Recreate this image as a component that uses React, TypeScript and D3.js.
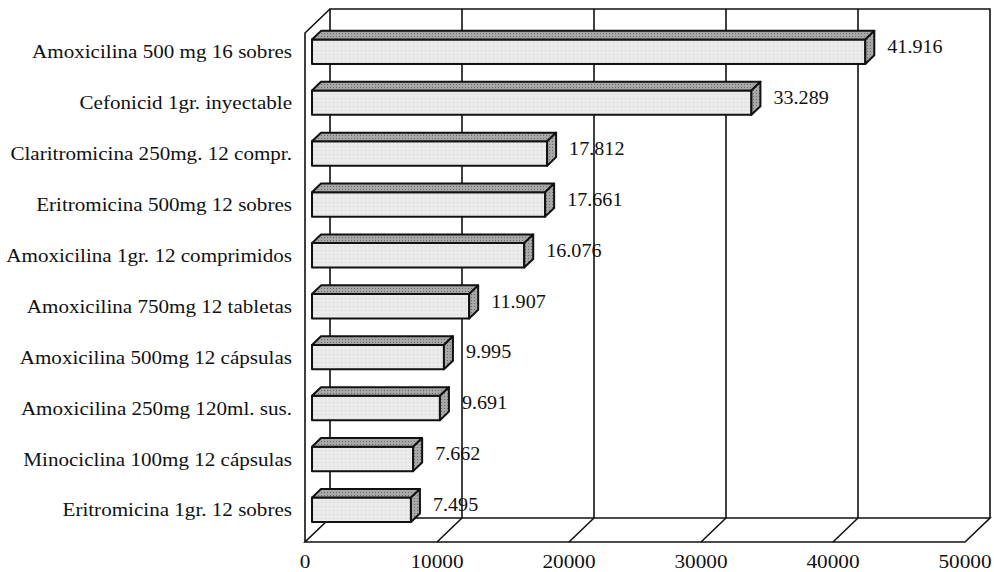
import * as d3 from "d3";

const categories = [
  "Amoxicilina 500 mg 16 sobres",
  "Cefonicid 1gr. inyectable",
  "Claritromicina 250mg. 12 compr.",
  "Eritromicina 500mg 12 sobres",
  "Amoxicilina 1gr. 12 comprimidos",
  "Amoxicilina 750mg 12 tabletas",
  "Amoxicilina 500mg 12 cápsulas",
  "Amoxicilina 250mg 120ml. sus.",
  "Minociclina 100mg 12 cápsulas",
  "Eritromicina 1gr. 12 sobres",
];
const values = [41916, 33289, 17812, 17661, 16076, 11907, 9995, 9691, 7662, 7495];
const xTicks = [0, 10000, 20000, 30000, 40000, 50000];

const width = 994;
const height = 572;
// oblique depth of the frame
const DX = 25;
const DY = -24;
// bar sits between these depth fractions
const D0 = 0.28;
const D1 = 0.64;
const font = "'Liberation Serif', 'Times New Roman', serif";

const fmt = (v: number) => d3.format(",")(v).replace(/,/g, ".");

export default function App() {
  const x = d3.scaleLinear().domain([0, 50000]).range([305, 965]);
  const y = d3
    .scaleBand<string>()
    .domain(categories)
    .range([33, 542])
    .paddingInner(0.52)
    .paddingOuter(0.26);

  const yTop = 33;
  const yBot = 542;
  const p = (v: number, yy: number, d: number) => [x(v) + d * DX, yy + d * DY];
  const pts = (arr: number[][]) => arr.map((q) => q.join(",")).join(" ");

  const bw = y.bandwidth();

  return (
    <svg
      width={width}
      height={height}
      style={{ position: "absolute", left: 0, top: 0, background: "#fff" }}
    >
      <defs>
        <pattern id="dots" width="3" height="3" patternUnits="userSpaceOnUse">
          <rect width="3" height="3" fill="#a8a8a8" />
          <rect width="1" height="1" fill="#6a6a6a" />
        </pattern>
        <pattern id="speck" width="4" height="4" patternUnits="userSpaceOnUse">
          <rect width="4" height="4" fill="#ebebeb" />
          <rect x="1" y="2" width="1" height="1" fill="#cfcfcf" />
        </pattern>
      </defs>
      <g fill="none" stroke="#111" strokeWidth={1.6}>
        {/* back wall */}
        <polyline
          points={pts([p(0, yBot, 1), p(0, yTop, 1), p(50000, yTop, 1), p(50000, yBot, 1)])}
        />
        {xTicks.slice(1, -1).map((t) => (
          <line
            key={t}
            x1={p(t, yTop, 1)[0]}
            y1={p(t, yTop, 1)[1]}
            x2={p(t, yBot, 1)[0]}
            y2={p(t, yBot, 1)[1]}
          />
        ))}
        {/* left wall */}
        <polyline points={pts([p(0, yBot, 0), p(0, yTop, 0), p(0, yTop, 1)])} />
        {/* floor */}
        <polygon
          points={pts([p(0, yBot, 0), p(50000, yBot, 0), p(50000, yBot, 1), p(0, yBot, 1)])}
        />
        {xTicks.slice(1, -1).map((t) => (
          <line
            key={"f" + t}
            x1={p(t, yBot, 0)[0]}
            y1={p(t, yBot, 0)[1]}
            x2={p(t, yBot, 1)[0]}
            y2={p(t, yBot, 1)[1]}
          />
        ))}
      </g>

      {xTicks.map((t) => (
        <text
          key={"t" + t}
          transform={`translate(${x(t)},${yBot + 19}) scale(1.12,1)`}
          textAnchor="middle"
          dominantBaseline="central"
          fontFamily={font}
          fontSize={19}
          fill="#111"
        >
          {t}
        </text>
      ))}

      {categories.map((c, i) => {
        const v = values[i];
        const y0 = y(c)!;
        const y1 = y0 + bw;
        const fl = p(0, y0, D0);
        const fr = p(v, y0, D0);
        const frb = p(v, y1, D0);
        const br = p(v, y0, D1);
        const bl = p(0, y0, D1);
        const brb = p(v, y1, D1);
        const cy = (fl[1] + frb[1]) / 2;
        return (
          <g key={c}>
            <g stroke="#111" strokeWidth={2} strokeLinejoin="round">
              <rect
                x={fl[0]}
                y={fl[1]}
                width={fr[0] - fl[0]}
                height={frb[1] - fr[1]}
                fill="url(#speck)"
              />
              <polygon points={pts([fl, fr, br, bl])} fill="url(#dots)" />
              <polygon points={pts([fr, br, brb, frb])} fill="url(#dots)" />
            </g>
            <text
              transform={`translate(292,${cy}) scale(1.11,1)`}
              textAnchor="end"
              dominantBaseline="central"
              fontFamily={font}
              fontSize={19}
              fill="#111"
            >
              {c}
            </text>
            <text
              transform={`translate(${br[0] + 13},${cy - 5}) scale(1.06,1)`}
              dominantBaseline="central"
              fontFamily={font}
              fontSize={19}
              fill="#111"
            >
              {fmt(v)}
            </text>
          </g>
        );
      })}
    </svg>
  );
}
